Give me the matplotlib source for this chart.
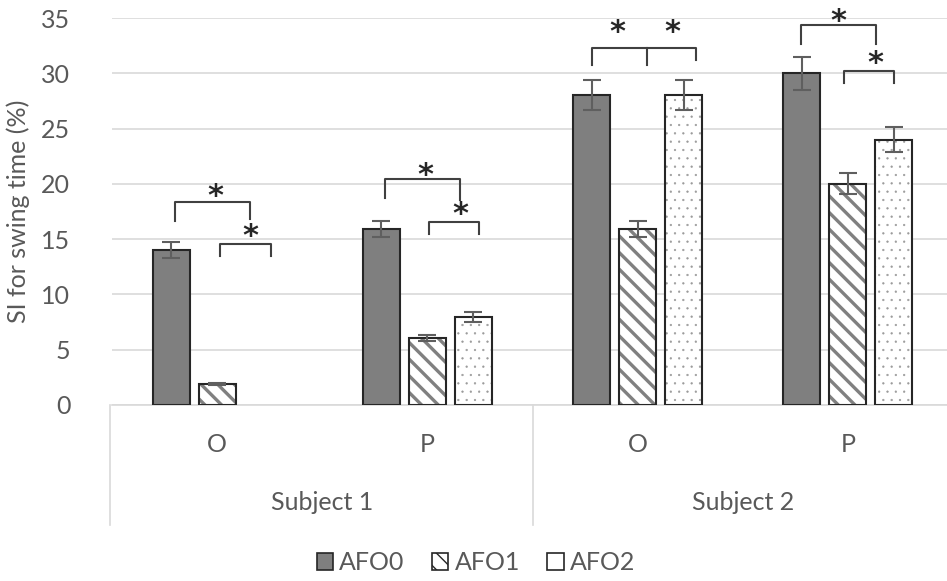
import numpy as np
import matplotlib
matplotlib.use("Agg")
import matplotlib.pyplot as plt
from matplotlib.patches import Patch

# SI for swing time (%) per subject / side / AFO condition
subjects = ["Subject 1", "Subject 2"]
sides = ["O", "P", "O", "P"]
conditions = ["AFO0", "AFO1", "AFO2"]

afo0 = [14.0, 15.9, 28.0, 30.0]
afo1 = [1.9, 6.05, 15.9, 20.0]
afo2 = [0.0, 7.95, 28.0, 24.0]
afo0_err = [0.75, 0.75, 1.35, 1.5]
afo1_err = [0.12, 0.3, 0.75, 0.95]
afo2_err = [0.0, 0.45, 1.35, 1.1]

# significance brackets: (group, x_left, x_right, top, left leg end, right leg end)
brackets = [
    (0, -0.20, 0.157, 18.36, 16.64, 16.8),
    (0, 0.014, 0.257, 14.56, 13.48, 13.48),
    (1, -0.20, 0.157, 20.44, 18.72, 18.54),
    (1, 0.010, 0.247, 16.55, 15.46, 15.46),
    (2, -0.219, 0.280, 32.29, 30.74, 31.2),
    (3, -0.224, 0.133, 34.37, 32.65, 32.65),
    (3, -0.019, 0.219, 30.2, 29.12, 29.12),
]
# middle leg of the double bracket over subject 2 / O
mid_legs = [(2, 0.043, 32.29, 30.74)]
# asterisks: (group, x, y)
stars = [
    (0, -0.01, 19.44), (0, 0.16, 15.83),
    (1, -0.01, 21.35), (1, 0.157, 17.8),
    (2, -0.095, 34.28), (2, 0.166, 34.28),
    (3, -0.043, 35.27), (3, 0.133, 31.47),
]

txt = "#595959"
edge = "#262626"
plt.rcParams["font.family"] = ["Lato", "DejaVu Sans"]

fig = plt.figure(figsize=(9.47, 5.81), dpi=100)
ax = fig.add_axes([112 / 947, 176 / 581, 841 / 947, 387 / 581])

x = np.arange(len(sides))
w = 0.176
off = 0.219

ekw = dict(ecolor="#5f5f5f", elinewidth=1.5, capsize=6.5, capthick=1.5)

ax.bar(x - off, afo0, w, color="#7f7f7f", edgecolor=edge, linewidth=1.5,
       yerr=afo0_err, error_kw=ekw, zorder=3)

with plt.rc_context({"hatch.linewidth": 2.4}):
    ax.bar(x, afo1, w, color="white", edgecolor="#808080", linewidth=0,
           hatch="\\\\", zorder=3)
ax.bar(x, afo1, w, fill=False, edgecolor=edge, linewidth=1.5,
       yerr=afo1_err, error_kw=ekw, zorder=3)

with plt.rc_context({"hatch.linewidth": 0.4}):
    ax.bar(x + off, afo2, w, color="white", edgecolor="#9a9a9a", linewidth=0,
           hatch="..", zorder=3)
h2 = [v if v > 0 else np.nan for v in afo2]
ax.bar(x + off, h2, w, fill=False, edgecolor=edge, linewidth=1.5,
       yerr=afo2_err, error_kw=ekw, zorder=3)

# brackets and asterisks
bc = "#404040"
for g, xl, xr, top, yl, yr in brackets:
    ax.plot([g + xl, g + xl, g + xr, g + xr], [yl, top, top, yr],
            color=bc, lw=1.5, zorder=4, clip_on=False, solid_joinstyle="round")
for g, xm, top, yb in mid_legs:
    ax.plot([g + xm, g + xm], [top, yb], color=bc, lw=1.5, zorder=4, clip_on=False)
for g, xs, ys in stars:
    # the asterisk glyph sits high in its box, so nudge it down a bit
    ax.text(g + xs, ys - 0.6, "*", ha="center", va="center", fontsize=22,
            fontweight="bold", color="#262626", family="DejaVu Sans",
            clip_on=False)

ax.set_xlim(-0.5, 3.5)
ax.set_ylim(0, 35)
ax.set_yticks(range(0, 36, 5))
ax.yaxis.grid(True, color="#d9d9d9", lw=1.2)
ax.set_axisbelow(True)
for s in ["top", "right", "left"]:
    ax.spines[s].set_visible(False)
ax.spines["bottom"].set_color("#d9d9d9")
ax.spines["bottom"].set_linewidth(1.2)
ax.tick_params(axis="y", length=0, pad=30, labelsize=18, labelcolor=txt)
ax.set_xticks([])
ax.set_ylabel("SI for swing time (%)", fontsize=18, color=txt, labelpad=8)

# two-level category axis
tr = ax.get_xaxis_transform()
for i, s in enumerate(sides):
    ax.text(i, -0.103, s, transform=tr, ha="center", va="center",
            fontsize=18, color=txt)
for j, s in enumerate(subjects):
    ax.text(2 * j + 0.5, -0.253, s, transform=tr, ha="center", va="center",
            fontsize=18, color=txt)
for xv in [-0.51, 1.5, 3.5]:
    ax.plot([xv, xv], [0, -0.31], transform=tr, color="#d9d9d9", lw=1.2,
            clip_on=False)

handles = [
    Patch(facecolor="#7f7f7f", edgecolor=edge, linewidth=1.2),
    Patch(facecolor="white", edgecolor=edge, linewidth=1.2, hatch="\\\\"),
    Patch(facecolor="white", edgecolor=edge, linewidth=1.2),
]
fig.legend(handles, conditions, loc="center", bbox_to_anchor=(476 / 947, 1 - 563 / 581),
           ncol=3, frameon=False, fontsize=18, labelcolor=txt,
           handlelength=0.65, handleheight=0.65, handletextpad=0.25,
           columnspacing=1.1)

fig.savefig("out.png", dpi=100)
